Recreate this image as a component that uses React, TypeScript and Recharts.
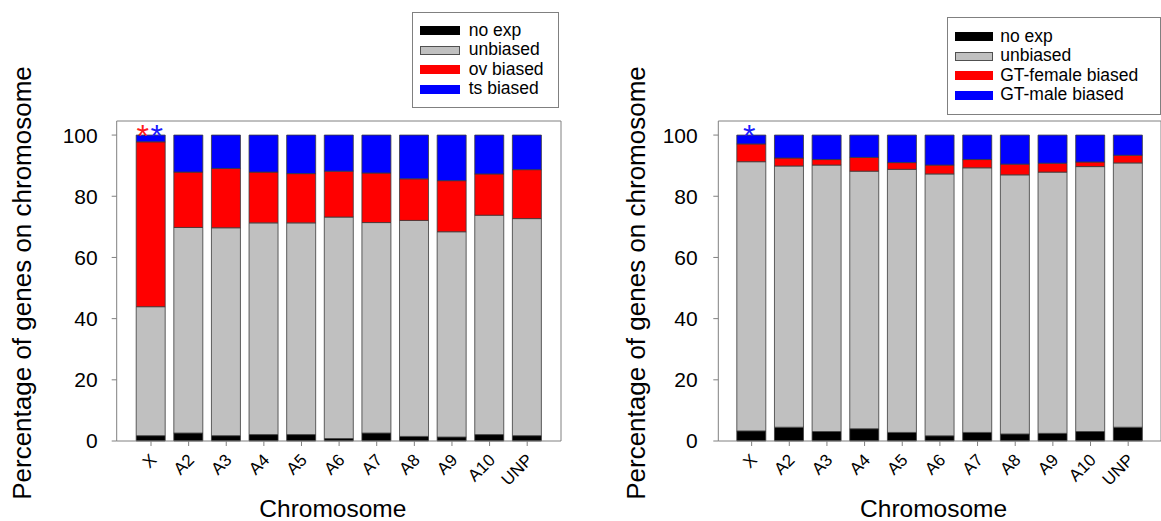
import React from 'react';
import { BarChart, Bar, XAxis, YAxis, Legend, LabelList, Label } from 'recharts';

// chromosomes on the x axis
const categories = ['X', 'A2', 'A3', 'A4', 'A5', 'A6', 'A7', 'A8', 'A9', 'A10', 'UNP'];

// left panel: ovary vs testis bias (% of genes on chromosome)
const ovNoExp = [1.75, 2.6, 1.75, 2.1, 2.1, 0.8, 2.6, 1.5, 1.3, 2.1, 1.75];
const ovUnbiased = [42.15, 67.2, 67.95, 69.2, 69.2, 72.4, 68.8, 70.6, 67.1, 71.7, 70.95];
const ovBiased = [53.9, 18.1, 19.4, 16.6, 16.1, 15.0, 16.2, 13.6, 16.7, 13.5, 16.0];
const tsBiased = [2.2, 12.1, 10.9, 12.1, 12.6, 11.8, 12.4, 14.3, 14.9, 12.7, 11.3];

// right panel: gonad-tissue female vs male bias
const gtNoExp = [3.3, 4.5, 3.1, 4.0, 2.8, 1.7, 2.8, 2.3, 2.5, 3.1, 4.5];
const gtUnbiased = [88.0, 85.4, 87.1, 84.2, 86.0, 85.6, 86.5, 84.7, 85.4, 86.6, 86.4];
const gtFemale = [5.8, 2.6, 1.8, 4.5, 2.2, 2.9, 2.7, 3.5, 2.9, 1.5, 2.5];
const gtMale = [2.9, 7.5, 8.0, 7.3, 9.0, 9.8, 8.0, 9.5, 9.2, 8.8, 6.6];

const yTicks = [0, 20, 40, 60, 80, 100];

// significance stars above a bar (category -> star colours)
const leftStars: Record<string, string[]> = { X: ['#ff1a1a', '#1a1aff'] };
const rightStars: Record<string, string[]> = { X: ['#1a1aff'] };

const FONT = 'Arial, "Liberation Sans", sans-serif';
const AXIS_COLOR = '#808080';
const BAR_STROKE = '#3a3a3a';

const leftData = categories.map((cat, i) => ({
  cat,
  noExp: ovNoExp[i],
  unbiased: ovUnbiased[i],
  biasA: ovBiased[i],
  biasB: tsBiased[i],
}));

const rightData = categories.map((cat, i) => ({
  cat,
  noExp: gtNoExp[i],
  unbiased: gtUnbiased[i],
  biasA: gtFemale[i],
  biasB: gtMale[i],
}));

const leftSeries = [
  { key: 'noExp', name: 'no exp', color: '#000000' },
  { key: 'unbiased', name: 'unbiased', color: '#c0c0c0' },
  { key: 'biasA', name: 'ov biased', color: '#ff0000' },
  { key: 'biasB', name: 'ts biased', color: '#0000ff' },
];

const rightSeries = [
  { key: 'noExp', name: 'no exp', color: '#000000' },
  { key: 'unbiased', name: 'unbiased', color: '#c0c0c0' },
  { key: 'biasA', name: 'GT-female biased', color: '#ff0000' },
  { key: 'biasB', name: 'GT-male biased', color: '#0000ff' },
];

const ChromTick = (props: any) => {
  const { x, y, payload } = props;
  const ax = x + 6.5;
  return (
    <text
      x={ax}
      y={y}
      transform={`rotate(-45 ${ax} ${y})`}
      textAnchor="end"
      fontSize={17}
      fontFamily={FONT}
      fill="#000"
    >
      {payload.value}
    </text>
  );
};

const BoxLegend = ({ items, width, height, swatchWidth, textLeft }: any) => (
  <div
    style={{
      width,
      height,
      boxSizing: 'border-box',
      border: '1px solid #808080',
      background: '#fff',
      paddingTop: 8.3,
      fontFamily: FONT,
    }}
  >
    {items.map((it: any) => (
      <div key={it.key} style={{ position: 'relative', height: 19.5 }}>
        <span
          style={{
            position: 'absolute',
            left: 7.5,
            top: 5.5,
            width: swatchWidth,
            height: 9,
            boxSizing: 'border-box',
            background: it.color,
            border: `1px solid ${it.key === 'unbiased' ? '#505050' : it.color}`,
          }}
        />
        <span
          style={{
            position: 'absolute',
            left: textLeft,
            top: 0,
            fontSize: 17.5,
            lineHeight: '19.5px',
            color: '#000',
            whiteSpace: 'nowrap',
          }}
        >
          {it.name}
        </span>
      </div>
    ))}
  </div>
);

const makeStarLabel = (stars: Record<string, string[]>, offsets: number[]) => (props: any) => {
  const { x, y, width, value } = props;
  const colors = stars[value];
  if (!colors) return null;
  const fs = 32;
  return (
    <g>
      {colors.map((c, i) => (
        <text
          key={i}
          x={x + width / 2 + offsets[i]}
          y={y + 0.37 * fs}
          textAnchor="middle"
          fontSize={fs}
          fontFamily={FONT}
          fill={c}
        >
          *
        </text>
      ))}
    </g>
  );
};

interface PanelProps {
  data: any[];
  series: { key: string; name: string; color: string }[];
  width: number;
  marginRight: number;
  yAxisWidth: number;
  yTickMargin: number;
  yTitleX: number;
  padding: { left: number; right: number };
  legendLeft: number;
  legendTop: number;
  legendWidth: number;
  legendHeight: number;
  swatchWidth: number;
  textLeft: number;
  stars: Record<string, string[]>;
  starOffsets: number[];
}

function StackedPanel(p: PanelProps) {
  return (
    <BarChart
      width={p.width}
      height={521}
      data={p.data}
      margin={{ top: 120, right: p.marginRight, bottom: 0, left: 0 }}
      barSize={29}
    >
      <XAxis
        dataKey="cat"
        height={80}
        interval={0}
        tickSize={5}
        tickMargin={15}
        tick={<ChromTick />}
        stroke={AXIS_COLOR}
        padding={p.padding}
      >
        <Label
          content={({ viewBox }: any) => (
            <text
              x={viewBox.x + viewBox.width / 2 - 6}
              y={viewBox.y + 75.5}
              textAnchor="middle"
              fontSize={24.5}
              fontFamily={FONT}
              fill="#000"
            >
              Chromosome
            </text>
          )}
        />
      </XAxis>
      {/* top edge of the plot frame */}
      <XAxis
        xAxisId="frame"
        dataKey="cat"
        orientation="top"
        height={1}
        tick={false}
        tickLine={false}
        stroke={AXIS_COLOR}
        padding={p.padding}
      />
      <YAxis
        domain={[0, 104.6]}
        ticks={yTicks}
        width={p.yAxisWidth}
        tickSize={5}
        tickMargin={p.yTickMargin}
        stroke={AXIS_COLOR}
        tick={{ fontSize: 21, fill: '#000', fontFamily: FONT }}
      >
        <Label
          content={({ viewBox }: any) => {
            const cx = viewBox.x + p.yTitleX;
            const cy = viewBox.y + viewBox.height / 2 + 2;
            return (
              <text
                x={cx}
                y={cy}
                transform={`rotate(-90 ${cx} ${cy})`}
                textAnchor="middle"
                dominantBaseline="central"
                fontSize={26}
                fontFamily={FONT}
                fill="#000"
              >
                Percentage of genes on chromosome
              </text>
            );
          }}
        />
      </YAxis>
      {/* right edge of the plot frame */}
      <YAxis
        yAxisId="frame"
        orientation="right"
        width={1}
        domain={[0, 104.6]}
        tick={false}
        tickLine={false}
        stroke={AXIS_COLOR}
      />
      <Legend
        layout="vertical"
        align="center"
        verticalAlign="middle"
        wrapperStyle={{ left: p.legendLeft, top: p.legendTop, width: 'auto', height: 'auto' }}
        content={() => (
          <BoxLegend
            items={p.series}
            width={p.legendWidth}
            height={p.legendHeight}
            swatchWidth={p.swatchWidth}
            textLeft={p.textLeft}
          />
        )}
      />
      {p.series.map((s, i) => (
        <Bar
          key={s.key}
          dataKey={s.key}
          name={s.name}
          stackId="a"
          fill={s.color}
          stroke={BAR_STROKE}
          strokeWidth={0.8}
          isAnimationActive={false}
        >
          {i === p.series.length - 1 && (
            <LabelList dataKey="cat" content={makeStarLabel(p.stars, p.starOffsets)} />
          )}
        </Bar>
      ))}
    </BarChart>
  );
}

export default function App() {
  return (
    <div
      style={{
        position: 'absolute',
        left: 0,
        top: 0,
        width: 1161,
        height: 521,
        background: '#fff',
        overflow: 'hidden',
      }}
    >
      <div style={{ position: 'absolute', left: 0, top: 0 }}>
        <StackedPanel
          data={leftData}
          series={leftSeries}
          width={580}
          marginRight={18}
          yAxisWidth={116.7}
          yTickMargin={14}
          yTitleX={22}
          padding={{ left: 15.5, right: 15 }}
          legendLeft={411.7}
          legendTop={11.7}
          legendWidth={147}
          legendHeight={96}
          swatchWidth={40}
          textLeft={56}
          stars={leftStars}
          starOffsets={[-8, 6]}
        />
      </div>
      <div style={{ position: 'absolute', left: 580, top: 0 }}>
        <StackedPanel
          data={rightData}
          series={rightSeries}
          width={582}
          marginRight={0}
          yAxisWidth={138.3}
          yTickMargin={15.6}
          yTitleX={56}
          padding={{ left: 14.5, right: 14 }}
          legendLeft={366.7}
          legendTop={17.3}
          legendWidth={214}
          legendHeight={98}
          swatchWidth={38}
          textLeft={52.5}
          stars={rightStars}
          starOffsets={[-2]}
        />
      </div>
    </div>
  );
}
